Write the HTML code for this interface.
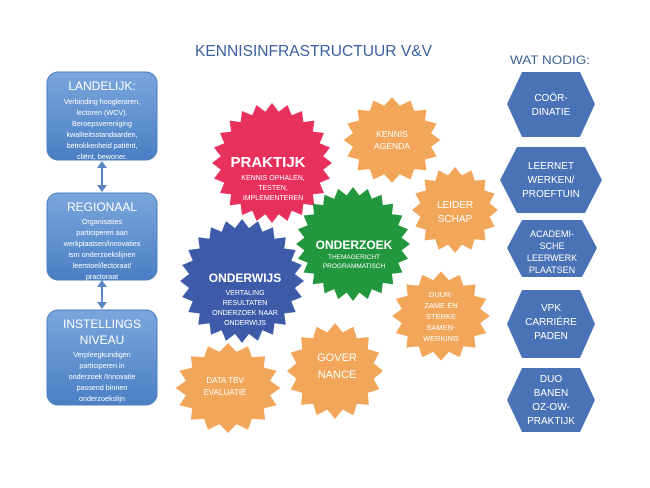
<!DOCTYPE html>
<html><head><meta charset="utf-8"><style>
html,body{margin:0;padding:0;background:#fff;}
svg{display:block;font-family:"Liberation Sans",sans-serif;}
</style></head><body>
<svg id="s" width="650" height="488" viewBox="0 0 650 488" xmlns="http://www.w3.org/2000/svg">
<defs>
<linearGradient id="bg" x1="0" y1="0" x2="0" y2="1">
<stop offset="0" stop-color="#7aa6dc"/><stop offset="1" stop-color="#4b7fc4"/>
</linearGradient>
</defs>
<text x="195" y="56" font-size="16" fill="#3b5f9f" textLength="237" lengthAdjust="spacingAndGlyphs">KENNISINFRASTRUCTUUR V&amp;V</text>
<text x="510" y="64" font-size="12" fill="#3e5f95" textLength="80" lengthAdjust="spacingAndGlyphs">WAT NODIG:</text>

<!-- left boxes -->
<g stroke="#4f7fbf" stroke-width="1">
<rect x="47" y="72" width="110" height="88" rx="11" fill="url(#bg)"/>
<rect x="47" y="193" width="110" height="87" rx="11" fill="url(#bg)"/>
<rect x="47" y="310" width="110" height="95" rx="11" fill="url(#bg)"/>
</g>
<g stroke="#5b86c2" stroke-width="2" fill="#5b86c2">
<line x1="102" y1="166" x2="102" y2="187"/>
<polygon points="97,168 107,168 102,161" stroke="none"/>
<polygon points="97,185 107,185 102,192" stroke="none"/>
<line x1="102" y1="285" x2="102" y2="304"/>
<polygon points="97,287 107,287 102,280" stroke="none"/>
<polygon points="97,302 107,302 102,309" stroke="none"/>
</g>
<g fill="#fff" text-anchor="middle">
<text x="102" y="90" font-size="12">LANDELIJK:</text>
<text x="102" y="104" font-size="7.2">Verbinding hoogleraren,</text>
<text x="102" y="115" font-size="7.2">lectoren (WCV).</text>
<text x="102" y="126" font-size="7.2">Beroepsvereniging</text>
<text x="102" y="137" font-size="7.2">kwaliteitsstandaarden,</text>
<text x="102" y="148" font-size="7.2">betrokkenheid patiënt,</text>
<text x="102" y="159" font-size="7.2">cliënt, bewoner.</text>
<text x="102" y="211" font-size="12">REGIONAAL</text>
<text x="102" y="224" font-size="7.2">Organisaties</text>
<text x="102" y="235" font-size="7.2">participeren aan</text>
<text x="102" y="246" font-size="7.2">werkplaatsen/innovaties</text>
<text x="102" y="257" font-size="7.2">ism onderzoekslijnen</text>
<text x="102" y="268" font-size="7.2">leerstoel/lectoraat/</text>
<text x="102" y="279" font-size="7.2">practoraat</text>
<text x="102" y="328" font-size="12">INSTELLINGS</text>
<text x="102" y="344" font-size="12">NIVEAU</text>
<text x="102" y="357" font-size="7.2">Verpleegkundigen</text>
<text x="102" y="368" font-size="7.2">participeren in</text>
<text x="102" y="379" font-size="7.2">onderzoek /Innovatie</text>
<text x="102" y="390" font-size="7.2">passend binnen</text>
<text x="102" y="401" font-size="7.2">onderzoekslijn</text>
</g>

<!-- hexagons -->
<g fill="#4a72b6">
<polygon points="522,72 580,72 595,104 580,137 522,137 507,104"/>
<polygon points="517,147 585,147 602,180 585,213 517,213 500,180"/>
<polygon points="522,220 582,220 597,248 582,277 522,277 507,248"/>
<polygon points="522,290 580,290 595,324 580,358 522,358 507,324"/>
<polygon points="522,368 580,368 595,400 580,432 522,432 507,400"/>
</g>
<g fill="#fff" text-anchor="middle" font-size="10">
<text x="551" y="101">COÖR-</text><text x="551" y="115">DINATIE</text>
<text x="551" y="169">LEERNET</text><text x="551" y="183">WERKEN/</text><text x="551" y="197">PROEFTUIN</text>
<text x="552" y="237" font-size="9">ACADEMI-</text><text x="552" y="249" font-size="9">SCHE</text><text x="552" y="261" font-size="9">LEERWERK</text><text x="552" y="273" font-size="9">PLAATSEN</text>
<text x="551" y="311">VPK</text><text x="551" y="325">CARRIÉRE</text><text x="551" y="339">PADEN</text>
<text x="551" y="382">DUO</text><text x="551" y="396">BANEN</text><text x="551" y="410">OZ-OW-</text><text x="551" y="424">PRAKTIJK</text>
</g>

<g id="stars"></g>
<g fill="#fff" text-anchor="middle">
<text x="392" y="137" font-size="8.5">KENNIS</text><text x="392" y="149" font-size="8.5">AGENDA</text>
<text x="455" y="208" font-size="10">LEIDER</text><text x="455" y="222" font-size="10">SCHAP</text>
<text x="441" y="297" font-size="7.5">DUUR-</text><text x="441" y="308" font-size="7.5">ZAME EN</text><text x="441" y="319" font-size="7.5">STERKE</text><text x="441" y="330" font-size="7.5">SAMEN-</text><text x="441" y="341" font-size="7.5">WERKING</text>
<text x="337" y="361" font-size="11">GOVER</text><text x="337" y="378" font-size="11">NANCE</text>
<text x="225" y="383" font-size="8">DATA TBV</text><text x="225" y="395" font-size="8">EVALUATIE</text>
<text x="268" y="167" font-size="15" font-weight="bold">PRAKTIJK</text>
<text x="273" y="180" font-size="7">KENNIS OPHALEN,</text><text x="273" y="190" font-size="7">TESTEN,</text><text x="273" y="200" font-size="7">IMPLEMENTEREN</text>
<text x="354" y="249" font-size="12" font-weight="bold">ONDERZOEK</text>
<text x="354" y="259" font-size="6.5">THEMAGERICHT</text><text x="354" y="268" font-size="6.5">PROGRAMMATISCH</text>
<text x="245" y="282" font-size="12" font-weight="bold">ONDERWIJS</text>
<text x="245" y="295" font-size="7">VERTALING</text><text x="245" y="305" font-size="7">RESULTATEN</text><text x="245" y="315" font-size="7">ONDERZOEK NAAR</text><text x="245" y="325" font-size="7">ONDERWIJS</text>
</g>
</svg>
<script>
(function(){
var g=document.getElementById('stars');
function star(cx,cy,r,n,ratio,fill,rx,ry){
  var p=[];rx=rx||1;ry=ry||1;
  for(var i=0;i<2*n;i++){
    var a=Math.PI*i/n-Math.PI/2;
    var rr=i%2?r*ratio:r;
    p.push((cx+Math.cos(a)*rr*rx).toFixed(1)+','+(cy+Math.sin(a)*rr*ry).toFixed(1));
  }
  var e=document.createElementNS('http://www.w3.org/2000/svg','polygon');
  e.setAttribute('points',p.join(' '));e.setAttribute('fill',fill);
  g.appendChild(e);
}
var O='#f2a659';
star(392,140,45,16,0.82,O,1.08,0.95);
star(455,210,43,16,0.82,O);
star(441,316,47,16,0.82,O,1.04,0.95);
star(335,371,48,16,0.82,O,1,1);
star(228,388,50,16,0.82,O,1.05,0.9);
star(272,163,60,24,0.86,'#e8305d');
star(242,281,62,24,0.86,'#3d5ba9');
star(353,244,57,24,0.86,'#22973e');
})();
</script>
</body></html>
